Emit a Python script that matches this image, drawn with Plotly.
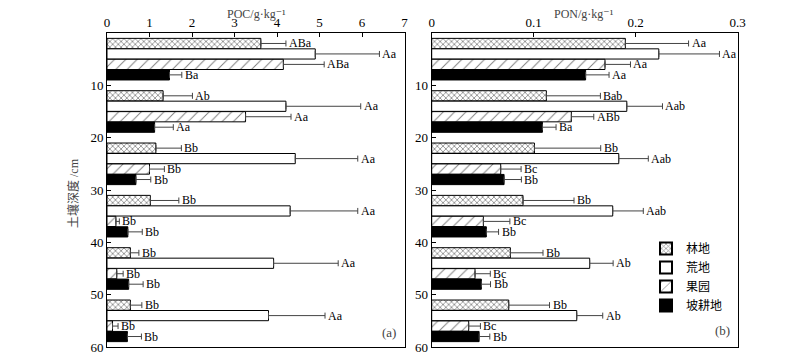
import plotly.graph_objects as go

# ---------------- data ----------------
depth_tops = [0, 10, 20, 30, 40, 50]
land_uses = ["林地", "荒地", "果园", "坡耕地"]

poc_lin = [3.62, 1.32, 1.15, 1.02, 0.55, 0.55]
poc_lin_err = [0.59, 0.69, 0.60, 0.67, 0.20, 0.27]
poc_lin_lbl = ["ABa", "Ab", "Bb", "Bb", "Bb", "Bb"]
poc_huang = [4.90, 4.21, 4.43, 4.31, 3.92, 3.80]
poc_huang_err = [1.51, 1.76, 1.47, 1.59, 1.52, 1.33]
poc_huang_lbl = ["Aa", "Aa", "Aa", "Aa", "Aa", "Aa"]
poc_guo = [4.15, 3.26, 1.00, 0.21, 0.23, 0.13]
poc_guo_err = [0.96, 1.07, 0.35, 0.08, 0.15, 0.13]
poc_guo_lbl = ["ABa", "Aa", "Bb", "Bb", "Bb", "Bb"]
poc_po = [1.47, 1.12, 0.68, 0.49, 0.51, 0.48]
poc_po_err = [0.29, 0.44, 0.35, 0.34, 0.34, 0.33]
poc_po_lbl = ["Ba", "Aa", "Bb", "Bb", "Bb", "Bb"]

pon_lin = [0.190, 0.1125, 0.1008, 0.0896, 0.0772, 0.0756]
pon_lin_err = [0.062, 0.053, 0.065, 0.050, 0.032, 0.040]
pon_lin_lbl = ["Aa", "Bab", "Bb", "Bb", "Bb", "Bb"]
pon_huang = [0.2228, 0.1914, 0.1835, 0.1776, 0.155, 0.1423]
pon_huang_err = [0.0595, 0.035, 0.029, 0.030, 0.023, 0.0255]
pon_huang_lbl = ["Aa", "Aab", "Aab", "Aab", "Ab", "Ab"]
pon_guo = [0.170, 0.137, 0.0677, 0.0507, 0.0425, 0.0363]
pon_guo_err = [0.025, 0.022, 0.020, 0.026, 0.015, 0.0115]
pon_guo_lbl = ["Aa", "ABb", "Bc", "Bc", "Bc", "Bc"]
pon_po = [0.151, 0.1086, 0.071, 0.0536, 0.0487, 0.0465]
pon_po_err = [0.023, 0.0134, 0.017, 0.012, 0.009, 0.0105]
pon_po_lbl = ["Aa", "Ba", "Bb", "Bb", "Bb", "Bb"]

x_ticks_poc = [0, 1, 2, 3, 4, 5, 6, 7]
x_ticks_pon = [0, 0.1, 0.2, 0.3]
y_ticks = [10, 20, 30, 40, 50, 60]

poc = [(poc_lin, poc_lin_err, poc_lin_lbl), (poc_huang, poc_huang_err, poc_huang_lbl),
       (poc_guo, poc_guo_err, poc_guo_lbl), (poc_po, poc_po_err, poc_po_lbl)]
pon = [(pon_lin, pon_lin_err, pon_lin_lbl), (pon_huang, pon_huang_err, pon_huang_lbl),
       (pon_guo, pon_guo_err, pon_guo_lbl), (pon_po, pon_po_err, pon_po_lbl)]

# ---------------- layout helpers (page body has an 8px margin) ----------------
W, H, OFF = 792, 349, 8


def fx(px):
    return (px - OFF) / W


def fy(py):
    return 1 - (py - OFF) / H


SERIF = "Liberation Serif, 'DejaVu Serif', 'Noto Sans CJK SC'"
styles = [
    dict(color="white", pattern=dict(shape="x", size=4, solidity=0.35, fgcolor="black", bgcolor="white", fillmode="overlay")),
    dict(color="white"),
    dict(color="white", pattern=dict(shape="/", size=8, solidity=0.12, fgcolor="black", bgcolor="white", fillmode="overlay")),
    dict(color="black"),
]

fig = go.Figure()
annotations = []

for panel, (data, xa, ya) in enumerate([(poc, "x", "y"), (pon, "x2", "y2")]):
    for i, (vals, errs, lbls) in enumerate(data):
        ypos = [t + 2 * (i + 1) for t in depth_tops]
        st = styles[i]
        marker = dict(color=st["color"], line=dict(color="black", width=1))
        if "pattern" in st:
            marker["pattern"] = st["pattern"]
        fig.add_trace(go.Bar(
            x=vals, y=ypos, orientation="h", width=1.95,
            name=land_uses[i], legendgroup=land_uses[i], showlegend=(panel == 1),
            marker=marker, xaxis=xa, yaxis=ya,
            error_x=dict(type="data", array=errs, arrayminus=[0] * len(errs), symmetric=False,
                         color="#444", thickness=1, width=3),
        ))
        for v, e, l, yy in zip(vals, errs, lbls, ypos):
            annotations.append(dict(x=v + e, y=yy, xref=xa, yref=ya, text=l, showarrow=False,
                                    xanchor="left", yanchor="middle", xshift=1,
                                    font=dict(family=SERIF, size=12, color="black")))

# titles and panel labels
annotations += [
    dict(x=fx(256), y=1, xref="paper", yref="paper", text="POC/g·kg⁻¹", borderpad=0, yshift=2,
         showarrow=False, xanchor="center", yanchor="top", font=dict(family=SERIF, size=12)),
    dict(x=fx(584), y=1, xref="paper", yref="paper", text="PON/g·kg⁻¹", borderpad=0, yshift=2,
         showarrow=False, xanchor="center", yanchor="top", font=dict(family=SERIF, size=12)),
    dict(x=fx(73), y=fy(193), xref="paper", yref="paper", text="土壤深度 /cm", textangle=-90,
         showarrow=False, xanchor="center", yanchor="middle", font=dict(family=SERIF, size=12)),
    dict(x=fx(389), y=fy(332), xref="paper", yref="paper", text="(a)",
         showarrow=False, xanchor="center", yanchor="middle", font=dict(family=SERIF, size=13)),
    dict(x=fx(722), y=fy(330), xref="paper", yref="paper", text="(b)",
         showarrow=False, xanchor="center", yanchor="middle", font=dict(family=SERIF, size=13)),
]

axis_common = dict(showline=True, linecolor="black", linewidth=1, mirror=True, showgrid=False,
                   zeroline=False, ticks="inside", ticklen=4, tickcolor="black",
                   tickfont=dict(family=SERIF, size=13, color="black"), automargin=False)

ydom = [fy(347), fy(33)]
fig.update_layout(
    template="none",
    width=W, height=H,
    margin=dict(l=0, r=0, t=0, b=0),
    paper_bgcolor="white", plot_bgcolor="white",
    barmode="overlay",
    showlegend=True,
    legend=dict(x=fx(646), y=fy(234), xanchor="left", yanchor="top",
                font=dict(family=SERIF, size=12, color="black"), bgcolor="rgba(0,0,0,0)",
                tracegroupgap=0, itemsizing="constant"),
    xaxis=dict(domain=[fx(107), fx(404.5)], range=[0, 7], side="top", anchor="y",
               tickvals=x_ticks_poc, **axis_common),
    yaxis=dict(domain=ydom, range=[60, 0], tickvals=y_ticks, anchor="x", **axis_common),
    xaxis2=dict(domain=[fx(431.7), fx(737.5)], range=[0, 0.3], side="top", anchor="y2",
                tickvals=x_ticks_pon, **axis_common),
    yaxis2=dict(domain=ydom, range=[60, 0], tickvals=y_ticks, anchor="x2", **axis_common),
    annotations=annotations,
)

fig.write_html("out.html")
